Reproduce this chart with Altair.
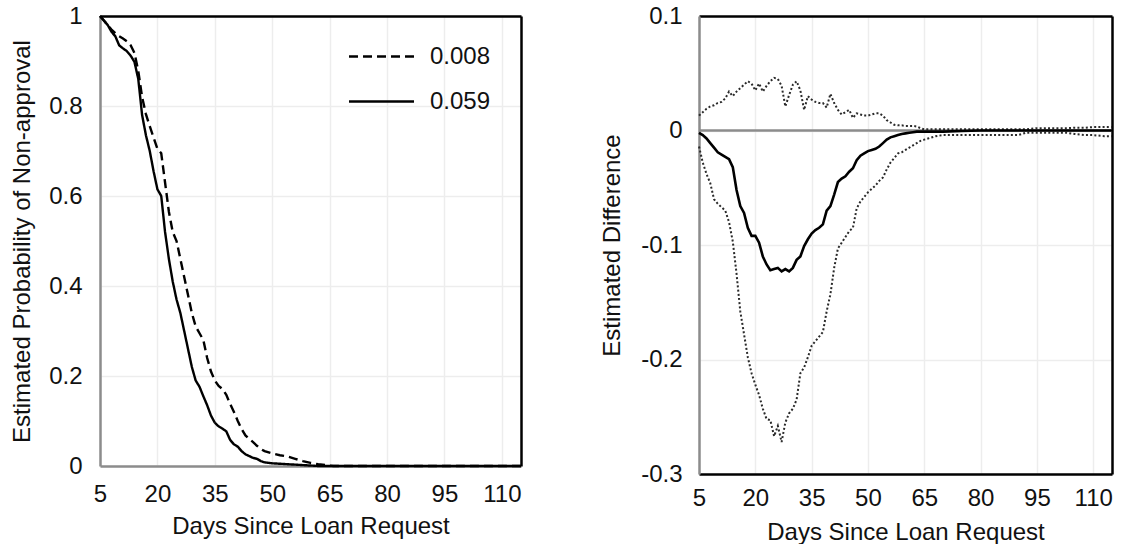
import altair as alt
import pandas as pd

# ---------------- data ----------------
days_left = list(range(5, 49)) + [50, 52, 54, 56, 58, 60, 62, 64, 66, 115]
p_0059 = [1.0, 0.99, 0.98, 0.965, 0.955, 0.935, 0.928, 0.922, 0.912, 0.898,
          0.86, 0.78, 0.735, 0.70, 0.655, 0.615, 0.60, 0.52, 0.46, 0.41,
          0.37, 0.34, 0.30, 0.26, 0.22, 0.19, 0.176, 0.155, 0.135, 0.112,
          0.096, 0.088, 0.083, 0.077, 0.058, 0.048, 0.043, 0.033, 0.026, 0.022,
          0.018, 0.016, 0.011, 0.008,
          0.006, 0.005, 0.004, 0.003, 0.002, 0.001, 0.0, 0.0, 0.0, 0.0]
p_0008 = [1.0, 0.99, 0.98, 0.97, 0.962, 0.955, 0.95, 0.944, 0.935, 0.918,
          0.878, 0.82, 0.782, 0.755, 0.73, 0.705, 0.695, 0.63, 0.565, 0.52,
          0.50, 0.46, 0.42, 0.38, 0.34, 0.31, 0.295, 0.28, 0.24, 0.21,
          0.19, 0.178, 0.171, 0.158, 0.138, 0.12, 0.10, 0.082, 0.068, 0.06,
          0.053, 0.045, 0.038, 0.033,
          0.028, 0.024, 0.021, 0.016, 0.011, 0.007, 0.004, 0.002, 0.0, 0.0]

days_right = list(range(5, 67)) + [68, 70, 75, 80, 85, 90, 92, 95, 100, 103, 105, 108, 110, 113, 115]
diff_est = [-0.002, -0.004, -0.007, -0.011, -0.015, -0.019, -0.021, -0.023, -0.025, -0.032,
            -0.052, -0.066, -0.072, -0.085, -0.092, -0.092, -0.098, -0.11, -0.117, -0.122,
            -0.121, -0.12, -0.123, -0.121, -0.123, -0.12, -0.113, -0.11, -0.101, -0.095,
            -0.09, -0.087, -0.085, -0.082, -0.07, -0.066, -0.056, -0.045, -0.042, -0.04,
            -0.036, -0.033, -0.026, -0.022, -0.02, -0.018, -0.017, -0.016, -0.014, -0.011,
            -0.008, -0.006, -0.005, -0.004, -0.003, -0.0025, -0.002, -0.0015, -0.001, -0.001,
            -0.001, -0.001,
            -0.001, -0.001, -0.0005, 0.0, 0.0, 0.0, 0.0, 0.0, 0.0, 0.0, 0.0, 0.0, 0.0, 0.0, 0.0]
diff_upper = [0.013, 0.016, 0.019, 0.021, 0.022, 0.024, 0.025, 0.028, 0.034, 0.030,
              0.034, 0.037, 0.040, 0.043, 0.041, 0.035, 0.041, 0.034, 0.039, 0.043,
              0.046, 0.045, 0.039, 0.021, 0.031, 0.040, 0.043, 0.035, 0.018, 0.030,
              0.027, 0.025, 0.024, 0.024, 0.020, 0.032, 0.024, 0.018, 0.014, 0.016,
              0.018, 0.011, 0.015, 0.014, 0.013, 0.013, 0.014, 0.015, 0.015, 0.013,
              0.009, 0.007, 0.005, 0.0045, 0.0045, 0.004, 0.004, 0.004, 0.0035, 0.002,
              0.001, 0.001,
              0.001, 0.001, 0.001, 0.001, 0.001, 0.001, 0.001, 0.002, 0.002, 0.002,
              0.0025, 0.0025, 0.003, 0.003, 0.003]
diff_lower = [-0.014, -0.028, -0.038, -0.046, -0.06, -0.064, -0.067, -0.07, -0.08, -0.097,
              -0.125, -0.158, -0.178, -0.198, -0.212, -0.222, -0.231, -0.243, -0.252, -0.253,
              -0.267, -0.258, -0.272, -0.255, -0.247, -0.243, -0.235, -0.212, -0.207, -0.198,
              -0.188, -0.184, -0.18, -0.176, -0.158, -0.143, -0.12, -0.103, -0.098, -0.093,
              -0.088, -0.085, -0.068, -0.062, -0.058, -0.054, -0.051, -0.048, -0.044, -0.041,
              -0.034, -0.028, -0.024, -0.02, -0.019, -0.017, -0.015, -0.013, -0.011, -0.009,
              -0.008, -0.007,
              -0.005, -0.004, -0.004, -0.004, -0.004, -0.004, -0.002, -0.002, -0.002, -0.002,
              -0.003, -0.004, -0.004, -0.005, -0.005]

x_ticks = [5, 20, 35, 50, 65, 80, 95, 110]
left_y_ticks = [0, 0.2, 0.4, 0.6, 0.8, 1]
right_y_ticks = [-0.3, -0.2, -0.1, 0, 0.1]
legend_order = ["0.008", "0.059"]

FONT = "Liberation Sans"
TXT = "#111111"
GRID = "#ededed"
AXGRAY = "#8c8c8c"
FS = 24

n_l = len(days_left)
left_df = pd.DataFrame({
    "day": days_left * 2,
    "p": p_0059 + p_0008,
    "series": ["0.059"] * n_l + ["0.008"] * n_l,
})

n_r = len(days_right)
right_lines = pd.DataFrame({
    "day": days_right * 2,
    "v": diff_upper + diff_lower,
    "band": ["upper"] * n_r + ["lower"] * n_r,
})
right_est = pd.DataFrame({"day": days_right, "v": diff_est})
zero_df = pd.DataFrame({"v": [0.0]})

label_expr = "datum.value < 0 ? '-' + format(-datum.value, '~g') : format(datum.value, '~g')"

x_scale = alt.Scale(domain=[5, 115], nice=False, zero=False)


def x_axis_bottom(label_pad, title_pad, domain_color):
    return alt.Axis(values=x_ticks, title="Days Since Loan Request", grid=True,
                    gridColor=GRID, gridWidth=1.5,
                    domainColor=domain_color, domainWidth=2.5, ticks=False,
                    labelPadding=label_pad, titlePadding=title_pad, labelFlush=False,
                    labelOverlap=False)


border_x = alt.Axis(orient="top", labels=False, ticks=False, grid=False, title=None,
                    domainColor="black", domainWidth=2.5)
border_y = alt.Axis(orient="right", labels=False, ticks=False, grid=False, title=None,
                    domainColor="black", domainWidth=2.5)

# ---------------- left panel ----------------
l_scale = alt.Scale(domain=[0, 1], nice=False)
left_lines = alt.Chart(left_df).mark_line(color="black", strokeWidth=2.4).encode(
    x=alt.X("day:Q", scale=x_scale, axis=x_axis_bottom(16, 8, AXGRAY)),
    y=alt.Y("p:Q", scale=l_scale,
            axis=alt.Axis(values=left_y_ticks, title="Estimated Probability of Non-approval",
                          grid=True, gridColor=GRID, gridWidth=1.5, domainColor=AXGRAY,
                          domainWidth=2.5, ticks=False, labelPadding=18, titlePadding=14,
                          labelExpr=label_expr, labelFlush=False, labelOverlap=False)),
    strokeDash=alt.StrokeDash("series:N",
                              scale=alt.Scale(domain=legend_order, range=[[9, 5], [1, 0]]),
                              legend=alt.Legend(orient="none", legendX=264, legendY=23,
                                                title=None, symbolType="M-2,0H2",
                                                symbolSize=1056, symbolStrokeWidth=2.4,
                                                symbolStrokeColor="black",
                                                labelFont=FONT, labelFontSize=FS,
                                                labelColor=TXT, labelOffset=31,
                                                rowPadding=15, padding=0)),
    detail="series:N",
)
left_border = alt.Chart(left_df).mark_line(opacity=0).encode(
    x=alt.X("day:Q", scale=x_scale, axis=border_x),
    y=alt.Y("p:Q", scale=l_scale, axis=border_y),
)
left = alt.layer(left_lines, left_border).resolve_axis(
    x="independent", y="independent").properties(width=421, height=450)

# ---------------- right panel ----------------
r_scale = alt.Scale(domain=[-0.3, 0.1], nice=False)
zero_rule = alt.Chart(zero_df).mark_rule(color="#8c8c8c", strokeWidth=2.5).encode(
    y=alt.Y("v:Q", scale=r_scale,
            axis=alt.Axis(values=right_y_ticks, title="Estimated Difference",
                          grid=True, gridColor=GRID, gridWidth=1.5, domainColor=AXGRAY,
                          domainWidth=2.5, ticks=False, labelPadding=17, titlePadding=16,
                          labelExpr=label_expr, labelFlush=False, labelOverlap=False)),
)
ci_lines = alt.Chart(right_lines).mark_line(color="#2a2a2a", strokeWidth=2.0,
                                            strokeDash=[2, 2.2]).encode(
    x=alt.X("day:Q", scale=x_scale, axis=x_axis_bottom(12, 10, "black")),
    y=alt.Y("v:Q", scale=r_scale, axis=None),
    detail="band:N",
)
est_line = alt.Chart(right_est).mark_line(color="black", strokeWidth=2.6).encode(
    x=alt.X("day:Q", scale=x_scale, axis=None),
    y=alt.Y("v:Q", scale=r_scale, axis=None),
)
right_border = alt.Chart(right_est).mark_line(opacity=0).encode(
    x=alt.X("day:Q", scale=x_scale, axis=border_x),
    y=alt.Y("v:Q", scale=r_scale, axis=border_y),
)
right = alt.layer(zero_rule, ci_lines, est_line, right_border).resolve_axis(
    x="independent", y="independent").properties(width=413, height=458)

chart = alt.hconcat(left, right, spacing=74).resolve_legend(
    strokeDash="independent"
).configure(
    font=FONT,
    padding={"left": 10, "top": 4, "right": 0, "bottom": 0},
).configure_view(
    stroke=None,
).configure_axis(
    labelFont=FONT, labelFontSize=FS, labelColor=TXT,
    titleFont=FONT, titleFontSize=FS, titleColor=TXT, titleFontWeight="normal",
)

chart.save("out.html", embed_options={"renderer": "svg", "actions": False})
